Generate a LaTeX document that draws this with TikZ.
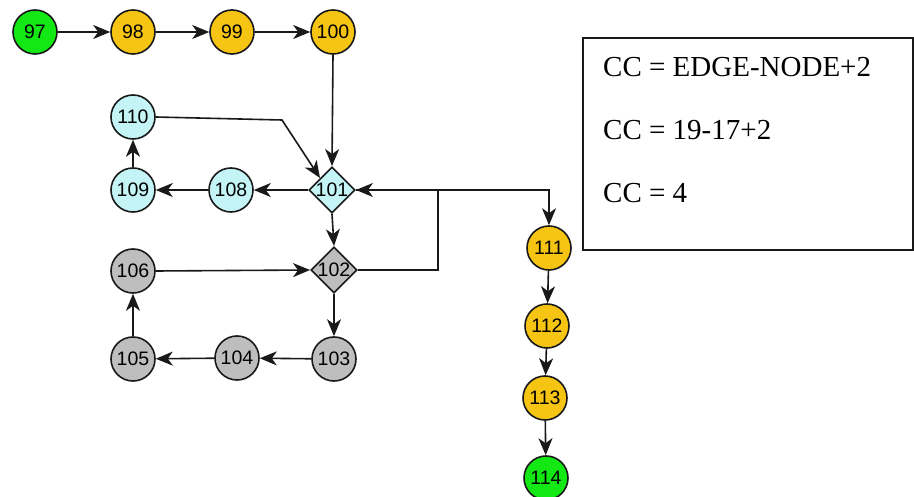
\documentclass[tikz,border=0pt]{standalone}
\usepackage{fontspec}
\setmainfont{Liberation Serif}
\setsansfont{Liberation Sans}
\usetikzlibrary{shapes.geometric,arrows.meta}
\definecolor{cgreen}{RGB}{20,232,20}
\definecolor{cyellow}{RGB}{246,196,18}
\definecolor{ccyan}{RGB}{196,244,246}
\definecolor{cgray}{RGB}{190,190,190}
\tikzset{
  nd/.style={circle, draw=black!90, line width=1.6pt, minimum size=44pt, inner sep=0pt, font=\sffamily\fontsize{19.5}{19.5}\selectfont},
  dm/.style={diamond, draw=black!90, line width=1.6pt, minimum width=44pt, minimum height=44pt, inner sep=0pt, aspect=1, font=\sffamily\fontsize{19.5}{19.5}\selectfont},
  gnode/.style={nd, fill=cgreen},
  ynode/.style={nd, fill=cyellow},
  cnode/.style={nd, fill=ccyan},
  snode/.style={nd, fill=cgray},
  arr/.style={draw=black!90, line width=1.6pt, -{Stealth[length=17pt,width=14pt,inset=5pt]}},
  eq/.style={anchor=base west, inner sep=0pt, font=\fontsize{29}{29}\selectfont}
}
\begin{document}
\begin{tikzpicture}[x=1pt,y=-1pt]
\useasboundingbox (0,0) rectangle (914,497);
\fill[white] (0,0) rectangle (914,497);
% nodes
\node[gnode] (n97) at (35,32) {97};
\node[ynode] (n98) at (133,32) {98};
\node[ynode] (n99) at (232,32) {99};
\node[ynode] (n100) at (333,32) {100};
\node[cnode] (n110) at (133,117) {110};
\node[cnode] (n109) at (133,190) {109};
\node[cnode] (n108) at (231,190) {108};
\node[dm, fill=ccyan] (n101) at (332,190) {101};
\node[dm, fill=cgray] (n102) at (334,270) {102};
\node[snode] (n106) at (133,271) {106};
\node[snode] (n105) at (133,359) {105};
\node[snode] (n104) at (237,358) {104};
\node[snode] (n103) at (334,359) {103};
\node[ynode] (n111) at (549,248) {111};
\node[ynode] (n112) at (547,326) {112};
\node[ynode] (n113) at (545,398) {113};
\node[gnode] (n114) at (546,478) {114};
% helper coordinates
\coordinate (b110) at (282,120);
\coordinate (l1) at (438,270);
\coordinate (l2) at (438,190);
\coordinate (r1) at (549,190);
% edges
\draw[arr] (n97) -- (n98);
\draw[arr] (n98) -- (n99);
\draw[arr] (n99) -- (n100);
\draw[arr] (n100.south) -- (n101.north);
\draw[arr] (n110.east) -- (b110) -- (n101.north west);
\draw[arr] (n101.west) -- (n108);
\draw[arr] (n108) -- (n109);
\draw[arr] (n109) -- (n110);
\draw[arr] (n101.south) -- (n102.north);
\draw[arr] (n102.south) -- (n103);
\draw[arr] (n103) -- (n104);
\draw[arr] (n104) -- (n105);
\draw[arr] (n105) -- (n106);
\draw[arr] (n106.east) -- (n102.west);
\draw[arr] (n102.east) -- (l1) -- (l2) -- (n101.east);
\draw[arr] (n101.east) -- (r1) -- (n111.north);
\draw[arr] (n111) -- (n112);
\draw[arr] (n112) -- (n113);
\draw[arr] (n113) -- (n114);
% formula box
\node[draw=black!90, line width=1.6pt, minimum width=330pt, minimum height=212pt, inner sep=0pt] (box) at (748,144) {};
\node[eq] (e1) at (603,77) {CC = EDGE-NODE+2};
\node[eq] (e2) at (603,140) {CC = 19-17+2};
\node[eq] (e3) at (603,203) {CC = 4};
\end{tikzpicture}
\end{document}
